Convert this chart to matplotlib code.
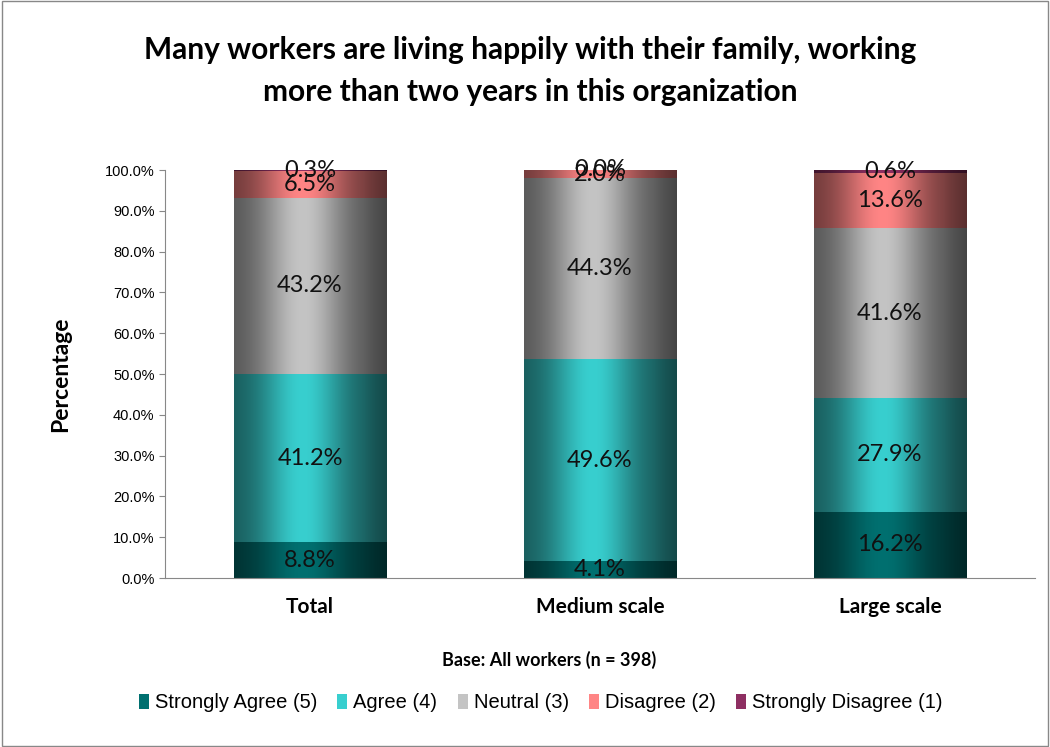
import numpy as np
import matplotlib.pyplot as plt
from matplotlib.patches import Rectangle

categories = ['Total', 'Medium scale', 'Large scale']
series = ['Strongly Agree (5)', 'Agree (4)', 'Neutral (3)', 'Disagree (2)', 'Strongly Disagree (1)']
strongly_agree = [8.8, 4.1, 16.2]
agree = [41.2, 49.6, 27.9]
neutral = [43.2, 44.3, 41.6]
disagree = [6.5, 2.0, 13.6]
strongly_disagree = [0.3, 0.0, 0.6]
colors = ['#007070', '#38CFCF', '#C4C4C4', '#FF8585', '#8E2F62']

values = [strongly_agree, agree, neutral, disagree, strongly_disagree]


def shade_row(color, n=200):
    # dark edges, bright band left of centre, like a cylinder
    t = np.linspace(0, 1, n)
    k = 0.42 + 0.58 * np.exp(-((t - 0.45) / 0.28) ** 2)
    k[t > 0.85] *= 1 - (t[t > 0.85] - 0.85) * 1.2
    rgb = np.array(plt.matplotlib.colors.to_rgb(color))
    return np.clip(k[:, None] * rgb[None, :], 0, 1)[None, :, :]


fig = plt.figure(figsize=(10.5, 7.47), dpi=100)
ax = fig.add_axes([165 / 1050, 1 - 578 / 747, 870 / 1050, 408 / 747])

width = 0.525
lab_size = 17
x = np.arange(len(categories))
bottom = np.zeros(len(categories))
for vals, c in zip(values, colors):
    vals = np.array(vals)
    img = shade_row(c)
    for i in range(len(categories)):
        if vals[i] <= 0:
            continue
        ax.imshow(img, extent=(x[i] - width / 2, x[i] + width / 2, bottom[i], bottom[i] + vals[i]),
                  aspect='auto', interpolation='bilinear', zorder=2)
        ax.text(x[i], bottom[i] + vals[i] / 2, f'{vals[i]:.1f}%', ha='center', va='center',
                fontsize=lab_size, family='Lato', color='#111111', zorder=4)
    bottom += vals
# zero-height segment still gets a label
for i in range(len(categories)):
    if strongly_disagree[i] == 0:
        ax.text(x[i], bottom[i], f'{strongly_disagree[i]:.1f}%', ha='center', va='center',
                fontsize=lab_size, family='Lato', color='#111111', zorder=4)

ax.set_xlim(-0.5, 2.5)
ax.set_ylim(0, 100)
ax.set_yticks(np.arange(0, 101, 10))
ax.set_yticklabels([f'{v:.1f}%' for v in range(0, 101, 10)], family='Liberation Sans', fontsize=10.5)
ax.set_xticks(x)
ax.set_xticklabels(categories, fontsize=15, fontweight='bold', family='Lato')
ax.tick_params(axis='x', length=0, pad=14)
ax.tick_params(axis='y', length=4, color='#888888')
for s in ['top', 'right']:
    ax.spines[s].set_visible(False)
for s in ['left', 'bottom']:
    ax.spines[s].set_color('#888888')
ax.set_ylabel('Percentage', fontsize=16.5, fontweight='bold', family='Lato', labelpad=24)

fig.text(0.505, 1 - 71 / 747, 'Many workers are living happily with their family, working\nmore than two years in this organization',
         ha='center', va='center', fontsize=21.5, fontweight='bold', family='Lato', linespacing=1.6)
fig.text(0.523, 1 - 660 / 747, 'Base: All workers (n = 398)', ha='center', va='center',
         fontsize=13, fontweight='bold', family='Lato')

handles = [Rectangle((0, 0), 1, 1, facecolor=c) for c in colors]
fig.legend(handles, series, loc='center', bbox_to_anchor=(0.515, 1 - 703 / 747), ncol=5, frameon=False,
           prop={'family': 'Liberation Sans', 'size': 14.5}, handlelength=0.5, handleheight=0.8,
           handletextpad=0.3, columnspacing=1.0)

fig.add_artist(Rectangle((0.002, 0.002), 0.996, 0.996, transform=fig.transFigure, fill=False,
                         edgecolor='#888888', linewidth=1))

fig.savefig('out.png', dpi=100)
